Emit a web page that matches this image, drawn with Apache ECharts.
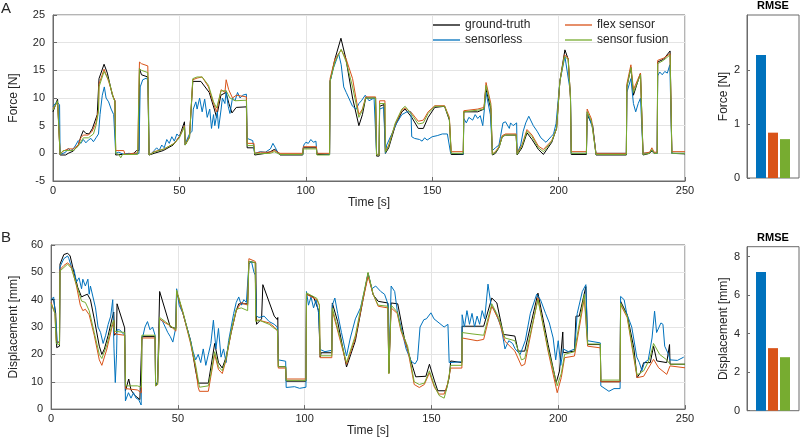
<!DOCTYPE html>
<html>
<head>
<meta charset="utf-8">
<script src="https://cdn.jsdelivr.net/npm/echarts@6/dist/echarts.min.js"></script>
<style>html,body{margin:0;padding:0;background:#fff}#c{width:800px;height:438px}</style>
</head>
<body>
<div id="c"></div>
<script>
// ---------- DATA ----------
const seriesNames = ['ground-truth', 'sensorless', 'flex sensor', 'sensor fusion'];
const timeTicks = [0, 50, 100, 150, 200, 250];

// Force [N] vs time [s]
const forceGT = [[0,7.5],[1.8,9.8],[2.5,9.5],[2.8,-0.3],[5,-0.3],[6,0],[8,0.4],[10,1.5],[11,3],[12,4.1],[13,3.6],[14.3,3.5],[15.6,4.5],[17.5,7],[18.2,13.5],[20.2,16.1],[21.5,14.5],[23.5,10.5],[24.5,9.5],[24.8,-0.3],[32,0],[33,0.5],[34,0.5],[34.2,15.3],[35,14.2],[37.5,13.8],[38,-0.3],[40,0],[43.6,0.5],[47.5,1.5],[50,3],[52,5.7],[52.3,1.5],[54,3],[55.3,13],[58.5,13],[61.8,11],[63.8,8],[64.7,6.5],[66.4,10.5],[68.4,11],[69.6,9],[70.8,7.3],[72.5,8.3],[76.5,8.4],[76.8,1],[79.5,1],[79.8,-0.3],[84,0],[86,0.3],[87.5,0.7],[88.5,0.5],[89.8,-0.3],[98.8,-0.3],[99,1],[104.2,1],[104.4,-0.2],[109.4,-0.2],[109.6,13],[111.5,17],[113.9,20.8],[115.9,17],[118.5,10],[121,5],[122.4,7],[123.7,10],[127.6,10],[128,-0.5],[129,-0.5],[129.2,8.5],[130.9,8.8],[131.3,8.8],[131.5,0],[132.8,1],[135.4,5],[138,7.5],[139.3,8],[141.9,6.5],[144.5,4.5],[146.5,4.5],[148.4,6.5],[151,8.3],[154.9,8.5],[156.8,6],[157.5,-0.2],[162.3,-0.2],[162.5,7.5],[168,7.5],[170.5,8],[171.2,11.7],[173.2,8],[173.8,-0.3],[175,0],[176.4,1],[177.7,3],[179,3.3],[183.2,3.3],[183.6,-0.3],[185.5,1],[187.5,3.7],[189.5,2.5],[192,0.7],[194,-0.2],[197.3,2],[199.2,4.5],[200.5,13],[202.5,18.7],[203.8,17],[204.7,10],[205,-0.2],[211,-0.2],[211.3,7],[213.5,5],[214.8,-0.3],[226.8,-0.3],[227,12],[228.6,15.5],[229.6,10.5],[232.4,14.5],[233.4,-0.3],[236,0],[236.9,0.4],[237.8,0],[239,0],[239.2,16.5],[241.5,17],[244.1,18.5],[244.8,0],[250,-0.1]];

const forceSensorless = [[0,8.5],[1.5,9.3],[2.6,8.8],[2.8,-0.2],[4,0],[5,0.2],[6,0.9],[7,0.5],[8,0.8],[9,1.5],[10,2.3],[11,1.8],[12,2.5],[13,1.9],[14,2.4],[15,2.7],[16,2.1],[17,2.8],[18,3.5],[18.6,7],[19.5,10.5],[20.3,12],[21,10],[22,9.3],[23,8],[24,7],[24.6,7.2],[24.8,0],[26,0.2],[28,-0.2],[30,0],[32,-0.1],[34,0],[34.5,12],[35.5,13.3],[37,13.6],[37.7,13],[38,-0.3],[39,0],[40,0.5],[41,1],[42,0.5],[43,1.5],[44,1],[45,2.5],[46,1.8],[47,3],[48,2.2],[49,3.5],[50,3],[51,4],[52,5],[52.3,1.5],[53,2.5],[54,3.5],[55,4],[55.5,8],[56.5,9.3],[57,8],[58,10],[59,7.5],[60,9.8],[61,6.5],[62,8],[62.7,4.5],[63.5,7],[64,5],[65,7.5],[65.5,4.5],[66.5,8],[67,10],[68,9],[68.5,11.3],[69.3,8.5],[70,7.2],[71,10],[72,9.5],[73,11],[74,10],[75,10.5],[76.5,10.7],[76.8,2.7],[77.5,2.9],[79,2.3],[79.6,2.5],[79.8,0],[82,0.3],[84,0.2],[86,0.8],[87,1.8],[88,1],[89,0],[90,-0.2],[98.8,-0.2],[99.2,1.5],[100,2],[101,1.8],[102,2.5],[103,2],[104,2.2],[104.4,0],[109.4,-0.2],[109.6,13],[111,15.5],[113,18],[114,16],[115,12],[116,11],[117,10],[118.5,8.5],[120,8],[121,9],[122,9.5],[123.5,10.5],[125,9.5],[127,10],[127.6,10.2],[128,-0.3],[129,-0.3],[129.2,8],[130.8,8.3],[131.3,8],[131.5,0],[132,1.5],[134,3.5],[136,5.5],[138,7],[140,7.5],[141.6,7.5],[141.9,3],[143,2.7],[145,2.5],[146,2.2],[147,2.8],[148,2.4],[150,3],[152,3.2],[154,3.5],[156,3.5],[157.3,0],[162.3,-0.1],[162.5,6.3],[163.5,5.5],[164.5,6.5],[166,6],[167,7],[168,6.3],[169,6.8],[170,5],[171.3,11],[173,7],[173.8,0.5],[175,1],[176.4,1.5],[177,3],[178,5.5],[179,5.7],[180.5,4.5],[181,5.5],[182,5],[183.4,5.5],[183.6,0],[185,1.5],[186,4],[187,5.5],[188.2,6.7],[190,5],[191.5,4],[193,2.8],[195,2],[197,3],[198,3.5],[199,5.4],[200.5,13],[202.5,17.5],[203.5,14.5],[204.7,11],[205,0],[211,0],[211.3,7.5],[213.5,4.5],[214.8,0],[226.8,0],[227,11],[228.6,13.5],[229.6,9],[230.5,7.5],[231.5,9],[232.4,10],[233.4,0],[236,0.1],[236.9,0.6],[238,0],[239,0],[239.2,14],[240,14.7],[241,14.2],[242,14.8],[243,14.5],[244,16],[244.8,0],[250,0]];

const forceFlex = [[0,8],[1.8,9.3],[2.5,9],[2.8,-0.2],[4,0.4],[6,0.8],[8,0.8],[10,1.5],[11,2.8],[12,3.3],[14,3.3],[15.5,4],[17,5.5],[18,8],[18.2,12.5],[20.2,15.2],[22,13],[24,10],[24.5,9.5],[24.8,0.5],[28,0.5],[28.5,-0.2],[33.5,0.1],[34.2,16.5],[35,16.2],[37.5,15.8],[38,-0.3],[40,0.3],[44,0.8],[48,1.8],[50,3],[52,5],[52.3,1.5],[54,3],[55.3,13.3],[57,13.6],[59,13.8],[61.5,12],[63.5,9],[64.7,7.5],[66.5,11.5],[68,11],[68.5,13.3],[69.5,11.5],[71,10],[72.5,10.5],[76.5,10.2],[76.8,1.8],[79.5,1.8],[79.8,0],[82,0.2],[86,0.2],[87.5,0.5],[89.8,0],[98.8,0],[99,1.2],[104.2,1.2],[104.4,0],[109.4,0],[109.6,13.5],[111.5,17],[114,18.7],[116,17],[118.5,13.5],[121,7],[122.4,8],[123.7,10.2],[127.6,10.2],[128,-0.3],[129,-0.3],[129.2,9.5],[131.3,9.5],[131.5,0.3],[132.8,1.5],[135.4,5.3],[138,7.8],[139.3,8.2],[141.9,7.3],[144.5,5.8],[146.5,6],[148.4,7.5],[151,8.6],[154.9,8.6],[156.8,6.5],[157.5,0.3],[162.3,0.3],[162.5,7.7],[168,8],[170.5,8.3],[171.3,12.8],[173.2,9],[173.8,-0.1],[175,0.3],[176.4,1.2],[177.7,3.2],[179,3.5],[183.2,3.5],[183.6,0],[185.5,1.5],[187.5,4.3],[189.5,3.3],[192,1.3],[194,0.7],[197.3,2.3],[199.2,4.5],[200.5,13],[202.3,17.8],[203.8,17.2],[204.7,10],[205,0.3],[211,0.3],[211.3,8],[213,6.2],[214.8,0],[226.8,0],[227,12.5],[228.6,16],[229.6,11.5],[232.4,14.5],[233.4,0],[236,0.2],[236.9,1],[237.8,0.2],[239,0.2],[239.2,16.8],[241.5,17.2],[244.1,18],[244.8,0.3],[250,0.3]];

const forceFusion = [[0,7.8],[1.8,9.5],[2.5,9.2],[2.8,-0.2],[4,0.5],[8,0.5],[10,1.3],[12,2.8],[14,2.8],[16,3.5],[17,5],[18,7.5],[18.2,12],[20.2,14.8],[22,13.3],[24,9.8],[24.5,9.4],[24.8,0],[26,-0.2],[26.8,-0.8],[27.5,-0.2],[33.5,-0.2],[34.2,15.3],[35,15],[37.5,14.6],[38,-0.3],[40,0.2],[44,0.8],[48,1.8],[50,2.8],[52,4.8],[52.3,1.5],[54,2.8],[55.3,13.5],[57,13.8],[59,13.8],[61.5,12.3],[63.5,9.3],[64.7,8.2],[66.5,11.3],[68.5,11.3],[70,10],[72,9.5],[76.5,9.6],[76.8,1.4],[79.5,1.4],[79.8,-0.1],[86,0],[87.5,0.3],[89.8,-0.2],[98.8,-0.2],[99,0.8],[104.2,0.8],[104.4,-0.3],[109.4,-0.3],[109.6,13],[111.5,16.5],[114,18.8],[116,16.5],[118.5,12],[121,6.5],[122.4,7.8],[123.7,10],[127.6,10],[128,-0.3],[129,-0.3],[129.2,9],[131.3,9],[131.5,0.2],[132.8,1.3],[135.4,5.5],[138,8],[139.3,8.5],[141.9,7],[144.5,5.3],[146.5,5.5],[148.4,7.2],[151,8.5],[154.9,8.5],[156.8,6.2],[157.5,0],[162.3,0],[162.5,7.5],[168,7.8],[170.5,8],[171.3,12.3],[173.2,8.5],[173.8,-0.2],[175,0.2],[176.4,1],[177.7,3],[179,3.3],[183.2,3.3],[183.6,-0.2],[185.5,1.3],[187.5,4],[189.5,3],[192,1],[194,0.3],[197.3,2.2],[199.2,4.5],[200.5,13],[202.3,17.5],[203.8,17],[204.7,10],[205,0],[211,0],[211.3,7.5],[213,5.8],[214.8,-0.2],[226.8,-0.2],[227,12],[228.6,15.5],[229.6,11],[232.4,14.2],[233.4,-0.2],[236,0],[236.9,0.7],[237.8,0],[239,0],[239.2,16.2],[241.5,16.8],[244.1,17.8],[244.8,0],[250,0]];

// Displacement [mm] vs time [s]
const dispGT = [[0,40],[1,40],[1.8,35],[2.2,22.5],[3.3,23],[3.5,53],[5,56.5],[6.5,57],[7.5,56],[9,50],[10.5,44.5],[12,41],[13,41.5],[14.3,42],[15.5,40],[17,33],[19,23],[20,20],[21,22],[22.5,27],[24,33],[24.7,35.5],[25,27],[25.8,28],[26,38.5],[29,29.7],[29.3,6.7],[30.6,11],[31.5,7],[33,5],[35,3.5],[35.6,3.5],[35.8,26.5],[41,26.5],[41.2,8.5],[42,10],[42.8,43],[47,30],[49.2,29.5],[49.5,43],[52,35],[55,25],[57,14],[58,9.5],[62,9.5],[64.5,24],[66,17],[67.5,15],[69,19],[71,28],[73,36],[74,38.5],[77.5,38.5],[78,54],[80.7,53.5],[81,31],[83,33],[83.5,45.5],[88,34],[89.2,32.7],[89.4,33.5],[89.6,15.5],[92.5,15.5],[92.7,10.2],[100.5,10.2],[100.7,42],[103.5,41],[105.5,36],[106.1,19],[106.5,20.6],[110.7,20.6],[110.9,38.8],[113,32],[116.5,15.4],[120,25],[123,40],[125,49.7],[127,41.8],[129,39.4],[132.8,38.8],[133.2,13.3],[133.9,13.3],[134.1,38.8],[136.7,38.5],[139.3,26],[141.9,17.6],[143.8,11.8],[147.8,12],[149.2,16.4],[151.2,10.3],[152.5,6.7],[155.7,6.7],[157,11.5],[157.6,17.6],[162,17],[162.1,30.3],[170.6,30.3],[173.8,40.6],[175.8,38.8],[178.4,27.3],[182.9,26.7],[184.2,21.2],[186.8,21.2],[192,42.4],[192.7,42],[196,23.6],[199.2,9.7],[200.5,13.9],[201.8,28.2],[202,20.6],[206.4,21.2],[207,34],[208.3,34],[210.9,44.8],[211.6,23.6],[216.6,23.6],[216.8,10],[224.4,10],[224.6,39.4],[227.2,34.5],[229.8,22.4],[231.1,11.5],[232.4,13.3],[233.7,17],[236.3,17],[237.6,23],[238.9,17.6],[242.8,17],[243.9,23.6],[244.1,16.4],[250,16.4]];

const dispSensorless = [[0,40],[1,41],[1.8,33],[2.5,24],[3.3,25],[3.5,52],[5,55],[6.5,56],[7,55],[8,52],[9,51],[10,46.5],[11,48],[12,44],[12.5,47.5],[13.5,45],[14.5,47.5],[15,42],[15.5,45],[16.5,41],[17.5,37],[18.5,30],[19.5,28],[20.5,24],[21.5,27],[22.5,31],[23.5,34],[24.3,40],[24.8,22],[25.3,9.7],[25.8,20],[26,29],[27,29],[28,28],[29,27],[29.3,3],[30.5,6],[31.5,4],[32.5,6],[33.5,4],[34.5,3.5],[35.5,1.5],[35.8,25],[37,30],[38,32],[39,29],[40,30],[41,27],[41.2,9],[42,9.5],[42.8,33],[44,32],[45,30],[46,28],[47,26.5],[48,24.5],[49,29],[49.5,44],[50.5,38],[52,35],[53.5,30],[55,25],[56,21],[57,18],[58,20],[59,17],[60,22],[61,16],[62,20],[63,24],[64,32.5],[65,22],[66,29.5],[67,19],[68,22],[69,17],[70,25],[71,30],[72,35],[73,39],[74,41],[75,38],[76,40],[77,39],[78,53],[79,54],[80,50],[80.5,49],[81,34],[82,33.5],[84,34],[86,32],[88,31],[89.2,30],[89.6,18],[92.5,17.5],[92.7,7.9],[96,8.2],[98,7.6],[100.5,8],[100.7,43],[101.5,38],[102.5,41],[103.5,37],[104.5,40],[105.5,35],[106.1,21.8],[108,21],[110.7,21.5],[110.9,38],[111.9,40.6],[113,35],[114.5,28],[116.5,19.4],[118,26],[120,33],[122,37],[124,45],[125,49.5],[126.5,44],[128,45],[130,43],[131.5,42],[133,38],[133.2,13.3],[133.9,13.3],[134.1,45],[135.5,43],[136.5,36],[138.5,28],[140,22],[142,17.5],[143.5,16.5],[144.5,18],[145.5,30],[147,32.7],[148,33],[149.8,35.2],[151,33],[153,31.5],[155,30],[156.5,31],[157,17],[162,17.3],[162.1,34.5],[163,30],[164,36],[165,31],[166,35],[167,30],[168,34],[169,31],[170,36],[171,33],[172.3,45.7],[173.5,38],[175,36],[177.5,30],[179,22],[180.5,25],[182,24],[183,22],[185,20],[187,25],[189,35],[191.5,42],[193,40],[195,35],[196.5,31.5],[198,26],[199,18],[200,25],[201,16],[202,22],[204,21],[206.5,22],[207.5,35],[209.5,43],[210.9,45.5],[211.6,25],[216.6,24.2],[216.8,8.5],[220,6.5],[222,7.5],[224.4,7.5],[224.6,41.2],[226,40],[227,35],[229,30],[231,19],[232,17],[233,14],[234,17],[235.5,18],[237,26],[238,35.8],[238.8,28],[239.5,28.5],[240.5,31.5],[241.3,31],[242,23],[243.5,20],[244.1,18],[247,17.8],[249.5,19]];

const dispFlex = [[0,39],[1.5,35],[2,25],[3.3,24],[3.5,51],[5,52.5],[6.5,53.5],[8,52],[10,45],[11.5,38],[12.5,36],[13.5,36.5],[15,34.5],[17,27],[19,18],[20,16],[22,22],[24,30],[24.7,32],[25,27.5],[29,27],[29.3,7.5],[34,7],[35.6,6],[35.8,26],[41,26],[41.2,8.5],[42,9],[42.8,33],[45,31.5],[47,30.5],[49.2,28.5],[49.5,43],[52,35],[55,24],[57,15],[58,8],[58.5,6.5],[62,6.5],[63,12],[64.5,20],[66,14.5],[67.5,13],[69,18],[71,28],[73,36],[75,39],[77.5,38],[78,55],[80.5,54],[80.7,32.5],[82,32.5],[86,31.5],[88,30],[89.3,28.5],[89.6,15],[92.5,15],[92.7,11],[100.5,11],[100.7,42],[104.8,40],[105.8,38],[106.1,18.8],[110.7,18.8],[110.9,36],[116.5,16.4],[120,26],[123,40],[125,48.5],[127,42],[129,37.6],[132.8,37],[133.2,13],[133.9,13],[134.1,37],[136.5,35],[138,28.5],[140.6,22],[143.2,9],[145.2,7.9],[147.2,9],[149.2,13.3],[151.2,7.9],[153,5.5],[155,5.5],[156.3,9],[157.6,15],[162,15],[162.1,26],[168,25],[170.6,25.5],[173.8,37.6],[176.5,32.7],[179,24.8],[182.9,21.2],[185.5,15.8],[186.8,16.4],[192,40.6],[196,21.2],[199.6,6],[201.2,11.5],[202.5,18.8],[206.4,19.4],[210.3,40.6],[211.6,23],[216.6,22.4],[216.8,10],[224.4,10],[224.6,38.2],[227.2,33.5],[231.1,11.5],[233.7,12],[237.6,18.2],[239.6,15.1],[242.8,12.7],[244.1,15.8],[250,15.1]];

const dispFusion = [[0,38.5],[1.5,35],[2,24],[3.3,23.5],[3.5,50.5],[6.5,53],[8,51.5],[10,45.5],[12,39.5],[13.5,39],[15,36],[17,28],[19,20],[20,18.5],[22,23.5],[24,31],[24.7,32.5],[25,28.5],[29,28],[29.3,8.5],[34,8.5],[35.6,8],[35.8,27],[41,27],[41.2,8.5],[42,9],[42.8,33.5],[45,32],[47,30.5],[49.2,29],[49.5,43.5],[52,35.5],[55,24.5],[57,16],[58.5,8],[62,8.5],[63,13],[64.5,21],[66,15.5],[67.5,14],[69,18.5],[71,28.5],[73,36.5],[75,37],[77.5,36],[78,54],[80.5,53.5],[80.7,32],[82,32.5],[86,31],[88,29.5],[89.3,29],[89.6,15.5],[92.5,15.5],[92.7,10.5],[100.5,10.5],[100.7,42.5],[104.8,40.5],[105.8,38],[106.1,19.5],[110.7,19.5],[110.9,37],[116.5,17],[120,27],[123,41],[125,50],[127,42],[129,38],[132.8,37.6],[133.2,13],[133.9,13],[134.1,38],[136.5,35.5],[138,29],[140.6,23],[143.2,10],[145.2,9],[147.2,9.5],[149.2,14],[151.2,8.5],[153,5],[155,4],[156.3,8.5],[157.6,16],[162,16],[162.1,28],[166,27.5],[170.6,27],[173.8,38.5],[176.5,33.5],[179,26],[182.9,25],[185.5,18],[186.8,18.5],[192,40],[196,22],[199.6,8.5],[201.2,13],[202.5,20],[206.4,21],[210.3,42],[211.6,23.8],[216.6,23.8],[216.8,10.6],[224.4,10.6],[224.6,38.7],[227.2,34],[231.1,12.5],[233.7,14],[236,18.2],[237.6,24],[240,20],[242.8,18],[244.1,16.4],[250,16.4]];

// RMSE bars (order: sensorless, flex sensor, sensor fusion)
const rmseMethods = ['sensorless', 'flex sensor', 'sensor fusion'];
const rmseForce = [2.28, 0.84, 0.72];
const rmseDisp = [7.2, 3.25, 2.78];
const forceTicks = [-5, 0, 5, 10, 15, 20, 25];
const dispTicks = [0, 10, 20, 30, 40, 50, 60];
const rmseForceTicks = [0, 1, 2];
const rmseDispTicks = [0, 2, 4, 6, 8];

// ---------- STYLE ----------
const colors = {'ground-truth':'#000000','sensorless':'#0072BD','flex sensor':'#D95319','sensor fusion':'#77AC30'};
const FONT = 'Liberation Sans, Arial, sans-serif';
const TXT = '#262626';
const AX = '#6b6b6b';

const chart = echarts.init(document.getElementById('c'), null, {renderer:'canvas'});

function lineX(gi){
  return {type:'value', gridIndex:gi, min:timeTicks[0], max:timeTicks[timeTicks.length-1], interval:timeTicks[1]-timeTicks[0],
    name:'Time [s]', nameLocation:'middle', nameGap:14, nameTextStyle:{fontFamily:FONT,fontSize:12,color:TXT},
    axisLine:{onZero:false, lineStyle:{color:AX}}, axisTick:{inside:true,length:4,lineStyle:{color:AX}},
    axisLabel:{fontFamily:FONT,fontSize:11,color:TXT,margin:4},
    splitLine:{show:true,lineStyle:{color:'#e4e4e4',width:1}}};
}
function lineY(gi, ticks, name, gap){
  return {type:'value', gridIndex:gi, min:ticks[0], max:ticks[ticks.length-1], interval:ticks[1]-ticks[0],
    name:name, nameLocation:'middle', nameGap:gap, nameRotate:90, nameTextStyle:{fontFamily:FONT,fontSize:12,color:TXT},
    axisLine:{show:true,onZero:false,lineStyle:{color:AX}}, axisTick:{show:true,inside:true,length:4,lineStyle:{color:AX}},
    axisLabel:{fontFamily:FONT,fontSize:11,color:TXT,margin:8},
    splitLine:{show:true,lineStyle:{color:'#e4e4e4',width:1}}};
}
function barX(gi){
  return {type:'value', gridIndex:gi, min:-1/6, max:1+(52-14)/12, show:false, splitLine:{show:false}};
}
function barY(gi, max, ticks, name, gap){
  return {type:'value', gridIndex:gi, min:0, max:max,
    name:name, nameLocation:'middle', nameGap:gap, nameRotate:90, nameTextStyle:{fontFamily:FONT,fontSize:12,color:TXT},
    axisLine:{show:true,onZero:false,lineStyle:{color:AX}}, axisTick:{show:true,inside:true,length:3,customValues:ticks,lineStyle:{color:AX}},
    axisLabel:{fontFamily:FONT,fontSize:11,color:TXT,margin:7,customValues:ticks},
    splitLine:{show:false}};
}
function line(name, data, gi){
  return {type:'line', name:name, data:data, xAxisIndex:gi, yAxisIndex:gi, symbol:'none', showSymbol:false,
    lineStyle:{width:1,color:colors[name]}, itemStyle:{color:colors[name]}, emphasis:{disabled:true}, silent:true};
}
function bars(vals, gi){
  return {type:'bar', xAxisIndex:gi, yAxisIndex:gi, barWidth:10, silent:true,
    data: vals.map((v,i)=>({value:[i+1, v], itemStyle:{color:colors[rmseMethods[i]]}}))};
}
function legend(names, left){
  return {data:names.map(n=>({name:n, icon:'rect', itemStyle:{color:colors[n]}})), left:left, top:19, orient:'vertical', itemGap:3,
    itemWidth:27, itemHeight:1.3, padding:0, selectedMode:false,
    textStyle:{fontFamily:FONT,fontSize:12,color:TXT,lineHeight:12}};
}

const option = {
  animation:false,
  backgroundColor:'#ffffff',
  grid:[
    {left:45, top:15, width:640, height:166, show:true, borderColor:AX, borderWidth:1},
    {left:747, top:15, width:52, height:163, show:true, borderColor:AX, borderWidth:1},
    {left:45, top:245, width:640, height:165, show:true, borderColor:AX, borderWidth:1},
    {left:747, top:246.7, width:52, height:164, show:true, borderColor:AX, borderWidth:1}
  ],
  xAxis:[lineX(0), barX(1), lineX(2), barX(3)],
  yAxis:[
    lineY(0, forceTicks, 'Force [N]', 33),
    barY(1, 3.02, rmseForceTicks, 'Force [N]', 17),
    lineY(2, dispTicks, 'Displacement [mm]', 21),
    barY(3, 8.52, rmseDispTicks, 'Displacement [mm]', 13)
  ],
  legend:[
    legend(['ground-truth','sensorless'], 433),
    legend(['flex sensor','sensor fusion'], 565)
  ],
  graphic:[
    {type:'text', x:1, y:1, style:{text:'A', font:'15px '+FONT, fill:TXT}},
    {type:'text', x:1, y:230, style:{text:'B', font:'15px '+FONT, fill:TXT}},
    {type:'text', x:773, y:6, style:{text:'RMSE', font:'bold 11px '+FONT, fill:'#000', align:'center', verticalAlign:'middle'}},
    {type:'text', x:773, y:238, style:{text:'RMSE', font:'bold 11px '+FONT, fill:'#000', align:'center', verticalAlign:'middle'}}
  ],
  series:[
    line('ground-truth', forceGT, 0),
    line('sensorless', forceSensorless, 0),
    line('flex sensor', forceFlex, 0),
    line('sensor fusion', forceFusion, 0),
    bars(rmseForce, 1),
    line('ground-truth', dispGT, 2),
    line('sensorless', dispSensorless, 2),
    line('flex sensor', dispFlex, 2),
    line('sensor fusion', dispFusion, 2),
    bars(rmseDisp, 3)
  ]
};
chart.setOption(option);
</script>
</body>
</html>
